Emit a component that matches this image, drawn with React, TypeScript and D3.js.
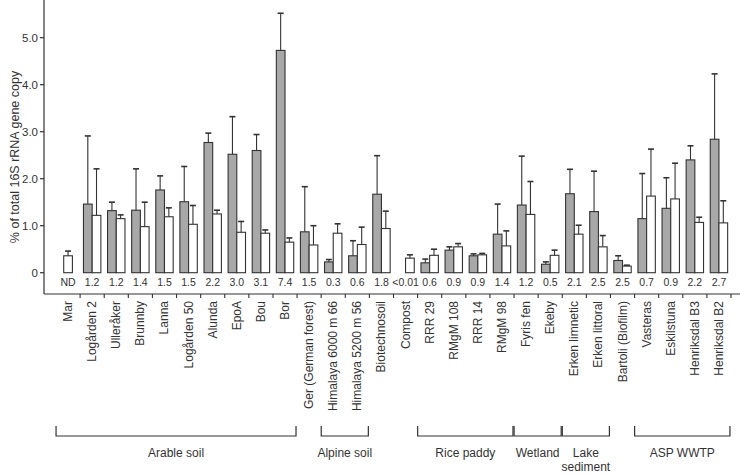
import React from "react";
import * as d3 from "d3";

const categories = [
  "Mar", "Logården 2", "Ulleråker", "Brunnby", "Lanna", "Logården 50", "Alunda", "EpoA", "Bou", "Bor",
  "Ger (German forest)", "Himalaya 6000 m 66", "Himalaya 5200 m 56", "Biotechnosoil", "Compost",
  "RRR 29", "RMgM 108", "RRR 14", "RMgM 98", "Fyris fen", "Ekeby", "Erken limnetic", "Erken littoral",
  "Bartoli (Biofilm)", "Vasteras", "Eskilstuna", "Henriksdal B3", "Henriksdal B2",
];

const valueLabels = [
  "ND", "1.2", "1.2", "1.4", "1.5", "1.5", "2.2", "3.0", "3.1", "7.4", "1.5", "0.3", "0.6", "1.8",
  "<0.01", "0.6", "0.9", "0.9", "1.4", "1.2", "0.5", "2.1", "2.5", "2.5", "0.7", "0.9", "2.2", "2.7",
];

const grayValues: (number | null)[] = [
  null, 1.46, 1.32, 1.33, 1.76, 1.51, 2.77, 2.52, 2.6, 4.73, 0.87, 0.23, 0.36, 1.67,
  0, 0.21, 0.48, 0.36, 0.82, 1.44, 0.18, 1.68, 1.3, 0.26, 1.15, 1.37, 2.4, 2.84,
];
const grayErrors: (number | null)[] = [
  null, 1.45, 0.18, 0.88, 0.3, 0.75, 0.2, 0.8, 0.34, 0.79, 0.96, 0.05, 0.32, 0.82,
  null, 0.08, 0.07, 0.04, 0.64, 1.04, 0.05, 0.52, 0.86, 0.1, 0.96, 0.65, 0.3, 1.39,
];
const whiteValues = [
  0.36, 1.22, 1.15, 0.98, 1.19, 1.03, 1.25, 0.86, 0.84, 0.65, 0.59, 0.84, 0.6, 0.94,
  0.31, 0.37, 0.55, 0.38, 0.57, 1.24, 0.37, 0.82, 0.55, 0.14, 1.63, 1.57, 1.07, 1.06,
];
const whiteErrors = [
  0.1, 0.99, 0.08, 0.52, 0.19, 0.4, 0.08, 0.23, 0.07, 0.09, 0.41, 0.2, 0.37, 0.37,
  0.07, 0.13, 0.07, 0.03, 0.32, 0.7, 0.11, 0.19, 0.24, 0.02, 1.0, 0.76, 0.11, 0.47,
];

const yTicks = [0, 1, 2, 3, 4, 5];
const yTickLabels = ["0", "1.0", "2.0", "3.0", "4.0", "5.0"];

const groupNames = [["Arable soil"], ["Alpine soil"], ["Rice paddy"], ["Wetland"], ["Lake", "sediment"], ["ASP WWTP"]];
const groupStart = [0, 11, 15, 19, 21, 24];
const groupEnd = [9, 12, 18, 20, 22, 27];

const FONT = "'Liberation Sans', Arial, Helvetica, sans-serif";
const INK = "#333";
const GRAY = "#a8a8a8";

export default function App() {
  const W = 740, H = 474;
  const axisX = 44;
  const axisBottom = 294;
  const x = d3.scaleBand<string>().domain(categories).range([56, 731]).paddingInner(0).paddingOuter(0);
  const y = d3.scaleLinear().domain([0, 5]).range([272.7, 37.7]);
  const step = x.step();
  const bw = 8.7;
  const cx = (i: number) => (x(categories[i]) as number) + step / 2;
  const capW = 6;

  const errBar = (xc: number, v: number, e: number, key: string) => (
    <g key={key} stroke={INK} strokeWidth={1.1}>
      <line x1={xc} x2={xc} y1={y(v)} y2={y(v + e)} />
      <line x1={xc - capW / 2} x2={xc + capW / 2} y1={y(v + e)} y2={y(v + e)} strokeWidth={1.6} />
    </g>
  );

  return (
    <svg width={W} height={H} style={{ position: "absolute", left: 0, top: 0, background: "#fff" }} fontFamily={FONT}>
      {/* y axis */}
      <line x1={axisX} x2={axisX} y1={0} y2={axisBottom} stroke={INK} strokeWidth={1.2} />
      {yTicks.map((t, i) => (
        <g key={"yt" + i}>
          <line x1={axisX - 4} x2={axisX} y1={y(t)} y2={y(t)} stroke={INK} strokeWidth={1.2} />
          <text x={axisX - 6} y={y(t)} dy="0.35em" textAnchor="end" fontSize={11.5} fill={INK}>
            {yTickLabels[i]}
          </text>
        </g>
      ))}
      <text transform={`translate(15,${157}) rotate(-90)`} textAnchor="middle" dy="0.35em" fontSize={12.5} fill={INK}>
        % of total 16S rRNA gene copy
      </text>

      {/* x axis */}
      <line x1={axisX} x2={W} y1={axisBottom} y2={axisBottom} stroke={INK} strokeWidth={1.2} />
      {categories.map((c, i) => {
        const bx = (x(c) as number) + step;
        return <line key={"xt" + i} x1={bx} x2={bx} y1={axisBottom} y2={axisBottom + 4} stroke={INK} strokeWidth={1.1} />;
      })}

      {/* bars */}
      {categories.map((c, i) => {
        const xc = cx(i);
        const g = grayValues[i];
        const ge = grayErrors[i];
        const wv = whiteValues[i];
        const we = whiteErrors[i];
        const whiteX = g === null ? xc - bw / 2 : xc;
        return (
          <g key={"b" + i}>
            {g !== null && (
              <rect x={xc - bw} y={y(g)} width={bw} height={y(0) - y(g)} fill={GRAY} stroke={INK} strokeWidth={1.1} />
            )}
            {g !== null && ge !== null && errBar(xc - bw / 2, g, ge, "ge" + i)}
            <rect x={whiteX} y={y(wv)} width={bw} height={y(0) - y(wv)} fill="#fff" stroke={INK} strokeWidth={1.1} />
            {errBar(whiteX + bw / 2, wv, we, "we" + i)}
          </g>
        );
      })}

      {/* value labels */}
      {categories.map((c, i) => (
        <text key={"v" + i} x={cx(i)} y={285.5} textAnchor="middle" fontSize={10.5} fill={INK}>
          {valueLabels[i]}
        </text>
      ))}

      {/* category labels */}
      {categories.map((c, i) => (
        <text key={"c" + i} transform={`translate(${cx(i) + 4},${301}) rotate(-90)`} textAnchor="end" fontSize={12} fill={INK}>
          {c}
        </text>
      ))}

      {/* group brackets */}
      {groupNames.map((lines, gi) => {
        const x0 = cx(groupStart[gi]) - 12;
        const x1 = cx(groupEnd[gi]) + 11;
        const mid = (x0 + x1) / 2;
        return (
          <g key={"g" + gi}>
            <path d={`M${x0},426V436H${x1}V426`} fill="none" stroke={INK} strokeWidth={1.2} />
            {lines.map((l, li) => (
              <text key={li} x={mid} y={457 + li * 14} textAnchor="middle" fontSize={12} fill={INK}>
                {l}
              </text>
            ))}
          </g>
        );
      })}
    </svg>
  );
}
